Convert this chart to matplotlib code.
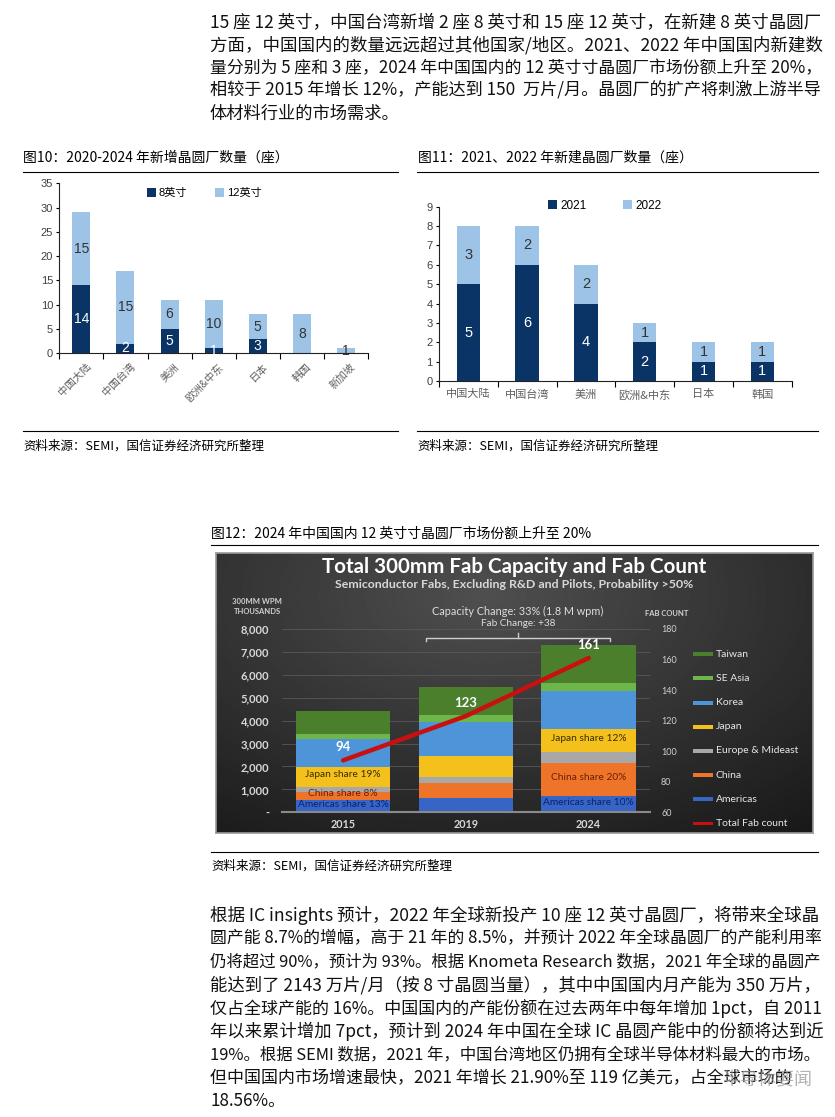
import numpy as np
import matplotlib.pyplot as plt
from matplotlib.lines import Line2D
from matplotlib.patches import Rectangle

plt.rcParams['font.family'] = ['Noto Sans CJK SC', 'DejaVu Sans']

W, H = 835, 1117

# ---------------- data ----------------
TOP_LINES = [
    "15 座 12 英寸，中国台湾新增 2 座 8 英寸和 15 座 12 英寸，在新建 8 英寸晶圆厂",
    "方面，中国国内的数量远远超过其他国家/地区。2021、2022 年中国国内新建数",
    "量分别为 5 座和 3 座，2024 年中国国内的 12 英寸寸晶圆厂市场份额上升至 20%，",
    "相较于 2015 年增长 12%，产能达到 150  万片/月。晶圆厂的扩产将刺激上游半导",
    "体材料行业的市场需求。",
]
BOTTOM_LINES = [
    "根据 IC insights 预计，2022 年全球新投产 10 座 12 英寸晶圆厂，将带来全球晶",
    "圆产能 8.7%的增幅，高于 21 年的 8.5%，并预计 2022 年全球晶圆厂的产能利用率",
    "仍将超过 90%，预计为 93%。根据 Knometa Research 数据，2021 年全球的晶圆产",
    "能达到了 2143 万片/月（按 8 寸晶圆当量），其中中国国内月产能为 350 万片，",
    "仅占全球产能的 16%。中国国内的产能份额在过去两年中每年增加 1pct，自 2011",
    "年以来累计增加 7pct，预计到 2024 年中国在全球 IC 晶圆产能中的份额将达到近",
    "19%。根据 SEMI 数据，2021 年，中国台湾地区仍拥有全球半导体材料最大的市场。",
    "但中国国内市场增速最快，2021 年增长 21.90%至 119 亿美元，占全球市场的",
    "18.56%。",
]

c10_regions = ['中国大陆', '中国台湾', '美洲', '欧洲&中东', '日本', '韩国', '新加坡']
c10_8inch = [14, 2, 5, 1, 3, 0, 0]
c10_12inch = [15, 15, 6, 10, 5, 8, 1]

c11_regions = ['中国大陆', '中国台湾', '美洲', '欧洲&中东', '日本', '韩国']
c11_2021 = [5, 6, 4, 2, 1, 1]
c11_2022 = [3, 2, 2, 1, 1, 1]

fab_years = ['2015', '2019', '2024']
cap_americas = [540, 610, 710]
cap_china = [360, 660, 1430]
cap_europe = [220, 280, 510]
cap_japan = [840, 910, 970]
cap_korea = [1240, 1500, 1690]
cap_seasia = [200, 290, 350]
cap_taiwan = [1020, 1240, 1620]
fab_count = [94, 123, 161]
japan_share = ['Japan share 19%', '', 'Japan share 12%']
china_share = ['China share 8%', '', 'China share 20%']
americas_share = ['Americas share 13%', '', 'Americas share 10%']

DARK = '#0b3466'
LIGHT = '#9dc3e6'
NUMFONT = ['Liberation Sans', 'Noto Sans CJK SC']


def rect(x0, y0, x1, y1):
    return [x0 / W, 1 - y1 / H, (x1 - x0) / W, (y1 - y0) / H]


def ftext(x, y, s, **kw):
    return fig.text(x / W, 1 - y / H, s, **kw)


def hline(x0, x1, y, lw=0.8, color='black'):
    fig.add_artist(Line2D([x0 / W, x1 / W], [1 - y / H, 1 - y / H],
                          transform=fig.transFigure, color=color, lw=lw))


def fit_sizes(lines, width, n_full, base=12):
    """font size per line so that full lines span the text column"""
    r = fig.canvas.get_renderer()
    sizes = []
    for s in lines:
        t = fig.text(0, 0, s, fontsize=base)
        sizes.append(base * width / t.get_window_extent(r).width)
        t.remove()
    med = float(np.median(sizes[:n_full]))
    out = [float(np.clip(s, med * 0.95, med * 1.05)) for s in sizes[:n_full]]
    return out + [med] * (len(lines) - n_full)


fig = plt.figure(figsize=(W / 100, H / 100), dpi=100)

# ---------------- paragraphs ----------------
for i, (s, fs) in enumerate(zip(TOP_LINES, fit_sizes(TOP_LINES, 611, 4))):
    ftext(210, 23 + i * 22.6, s, fontsize=fs, va='center', color='#111111')

for i, (s, fs) in enumerate(zip(BOTTOM_LINES, fit_sizes(BOTTOM_LINES, 611, 7))):
    ftext(210, 915.5 + i * 23.2, s, fontsize=fs, va='center', color='#111111')
# watermark
ftext(722, 1080, '半导体要闻', fontsize=13, va='center', color='#9a9a9a', alpha=0.75)

# ---------------- chart 10 ----------------
ftext(23, 158, '图10：2020-2024 年新增晶圆厂数量（座）', fontsize=10, fontweight='medium', va='center')
hline(23, 398, 171.7)
hline(23, 398, 431)
ftext(23, 446, '资料来源：SEMI，国信证券经济研究所整理', fontsize=9, fontweight='medium', va='center')

ax10 = fig.add_axes(rect(59.3, 183.3, 368, 353.3))
x10 = np.arange(len(c10_regions))
b1 = ax10.bar(x10, c10_8inch, width=0.41, color=DARK, label='8英寸')
b2 = ax10.bar(x10, c10_12inch, bottom=c10_8inch, width=0.41, color=LIGHT, label='12英寸')
ax10.bar_label(b1, labels=[str(v) if v else '' for v in c10_8inch], label_type='center',
               color='white', fontsize=10, fontfamily=NUMFONT)
ax10.bar_label(b2, labels=[str(v) if v else '' for v in c10_12inch], label_type='center',
               color='#333333', fontsize=10, fontfamily=NUMFONT)
ax10.set_ylim(0, 35)
ax10.set_yticks(range(0, 36, 5))
ax10.set_xlim(-0.5, len(c10_regions) - 0.5)
ax10.set_xticks(x10 + 0.1)
ax10.set_xticks(np.arange(-0.5, len(c10_regions), 1), minor=True)
ax10.set_xticklabels(c10_regions, rotation=45, ha='right', va='top', rotation_mode='anchor',
                     fontsize=7.5, color='#606060')
ax10.legend(loc='upper center', bbox_to_anchor=(0.47, 1.03), ncol=2, frameon=False,
            handlelength=0.8, handleheight=0.8, handletextpad=0.3, columnspacing=2.5,
            prop={'family': NUMFONT, 'size': 8})

# ---------------- chart 11 ----------------
ftext(418, 158, '图11：2021、2022 年新建晶圆厂数量（座）', fontsize=10, fontweight='medium', va='center')
hline(417, 818, 171.7)
hline(417, 818, 431)
ftext(417, 446, '资料来源：SEMI，国信证券经济研究所整理', fontsize=9, fontweight='medium', va='center')

ax11 = fig.add_axes(rect(439, 206.7, 791.7, 381))
x11 = np.arange(len(c11_regions))
b3 = ax11.bar(x11, c11_2021, width=0.40, color=DARK, label='2021')
b4 = ax11.bar(x11, c11_2022, bottom=c11_2021, width=0.40, color=LIGHT, label='2022')
ax11.bar_label(b3, labels=[str(v) for v in c11_2021], label_type='center',
               color='white', fontsize=10.5, fontfamily=NUMFONT)
ax11.bar_label(b4, labels=[str(v) for v in c11_2022], label_type='center',
               color='#333333', fontsize=10.5, fontfamily=NUMFONT)
ax11.set_ylim(0, 9)
ax11.set_yticks(range(0, 10))
ax11.set_xlim(-0.5, len(c11_regions) - 0.5)
ax11.set_xticks(x11)
ax11.set_xticks(np.arange(-0.5, len(c11_regions), 1), minor=True)
ax11.set_xticklabels(c11_regions, fontsize=8, color='#606060')
ax11.legend(loc='upper center', bbox_to_anchor=(0.47, 1.10), ncol=2, frameon=False,
            handlelength=0.8, handleheight=0.8, handletextpad=0.3, columnspacing=3.0,
            prop={'family': NUMFONT, 'size': 8.5})

for ax in (ax10, ax11):
    for sp in ('top', 'right'):
        ax.spines[sp].set_visible(False)
    for sp in ('left', 'bottom'):
        ax.spines[sp].set_color('#222222')
        ax.spines[sp].set_linewidth(0.8)
    ax.tick_params(axis='y', length=2.5, width=0.8, pad=2, labelsize=8, labelcolor='#404040')
    ax.tick_params(axis='x', which='major', length=0, pad=6)
    ax.tick_params(axis='x', which='minor', length=4, width=0.8, direction='out')
    for lab in ax.get_yticklabels():
        lab.set_fontfamily('Liberation Sans')

# ---------------- chart 12 ----------------
ftext(211, 534, '图12：2024 年中国国内 12 英寸寸晶圆厂市场份额上升至 20%', fontsize=10,
      fontweight='medium', va='center')
hline(211, 818, 545)
hline(211, 818, 852)
ftext(211, 866, '资料来源：SEMI，国信证券经济研究所整理', fontsize=9, fontweight='medium', va='center')

# dark background panel
ax_bg = fig.add_axes(rect(216, 553, 813, 833))
yy, xx = np.mgrid[0:1:200j, 0:1:400j]
dist = np.sqrt(((xx - 0.45) * 1.1) ** 2 + ((yy - 0.15) * 0.9) ** 2)
ax_bg.imshow(np.clip(0.31 - 0.22 * dist, 0.08, 1), cmap='gray', vmin=0, vmax=1,
             aspect='auto', extent=(0, 1, 0, 1), origin='upper')
ax_bg.set_xticks([])
ax_bg.set_yticks([])
for sp in ax_bg.spines.values():
    sp.set_color('#9a9a9a')
    sp.set_linewidth(1.2)

ftext(514, 567, 'Total 300mm Fab Capacity and Fab Count', fontsize=14.8, fontweight='bold',
      family='Lato', color='white', ha='center', va='center')
ftext(514, 585, 'Semiconductor Fabs, Excluding R&D and Pilots, Probability >50%', fontsize=8.9,
      fontweight='bold', family='Lato', color='#d8d8d8', ha='center', va='center')
ftext(257, 607, '300MM WPM\nTHOUSANDS', fontsize=5.5, fontweight='bold', family='Lato',
      color='#d0d0d0', ha='center', va='center', linespacing=1.5)
ftext(667, 613, 'FAB COUNT', fontsize=5.5, fontweight='bold', family='Lato',
      color='#d0d0d0', ha='center', va='center')
ftext(518, 611, 'Capacity Change: 33% (1.8 M wpm)', fontsize=7.8, family='Lato',
      color='#dddddd', ha='center', va='center')
ftext(518, 623, 'Fab Change: +38', fontsize=7.2, family='Lato',
      color='#dddddd', ha='center', va='center')

seg_names = ['Americas', 'China', 'Europe & Mideast', 'Japan', 'Korea', 'SE Asia', 'Taiwan']
seg_vals = [cap_americas, cap_china, cap_europe, cap_japan, cap_korea, cap_seasia, cap_taiwan]
seg_colors = ['#3665c6', '#ee7429', '#a8a8a8', '#f4c01c', '#4d95d8', '#6cb64a', '#4b7f2c']

ax_c = fig.add_axes(rect(281.7, 629, 650, 812.3))
ax_c.patch.set_alpha(0)
xc = np.arange(len(fab_years))
bottom = np.zeros(len(fab_years))
mids = {}
for name, vals, col in zip(seg_names, seg_vals, seg_colors):
    ax_c.bar(xc, vals, bottom=bottom, width=0.77, color=col, zorder=2)
    mids[name] = bottom + np.array(vals) / 2
    bottom = bottom + np.array(vals)

for i in xc:
    if japan_share[i]:
        ax_c.text(i, mids['Japan'][i] + 90, japan_share[i], ha='center', va='center',
                  fontsize=7.3, family='Lato', color='#3b2c00', zorder=3)
        ax_c.text(i, mids['China'][i] + 110, china_share[i], ha='center', va='center',
                  fontsize=7.3, family='Lato', color='#6a1d08', zorder=3)
        ax_c.text(i, mids['Americas'][i] + 60, americas_share[i], ha='center', va='center',
                  fontsize=7.3, family='Lato', color='#0e1f6a', zorder=3)

ax_c.set_xlim(-0.5, 2.5)
ax_c.set_ylim(0, 8000)
ax_c.set_yticks(range(0, 8001, 1000))
ax_c.set_yticklabels(['-'] + [f'{v:,}' for v in range(1000, 8001, 1000)])
ax_c.set_xticks(xc)
ax_c.set_xticklabels(fab_years)
ax_c.grid(axis='y', color='#585858', lw=0.6, zorder=0)
ax_c.set_axisbelow(True)
for sp in ('top', 'right', 'left'):
    ax_c.spines[sp].set_visible(False)
ax_c.spines['bottom'].set_color('#8a8a8a')
ax_c.spines['bottom'].set_linewidth(1.5)
ax_c.tick_params(axis='y', length=0, pad=9, labelsize=8, labelcolor='#d8d8d8')
ax_c.tick_params(axis='x', length=0, pad=5, labelsize=7.8, labelcolor='#d8d8d8')
for lab in ax_c.get_xticklabels() + ax_c.get_yticklabels():
    lab.set_fontfamily('Lato')
    lab.set_fontweight('bold')

# bracket above 2019-2024
ax_c.plot([0.672, 0.672, 2.176, 2.176], [7460, 7600, 7600, 7460], color='#cfcfcf', lw=1,
          clip_on=False, zorder=3)
ax_c.plot([1.425, 1.425], [7600, 7820], color='#cfcfcf', lw=1, clip_on=False, zorder=3)

ax_r = ax_c.twinx()
ax_r.patch.set_alpha(0)
ax_r.set_ylim(60, 180)
ax_r.set_yticks(range(60, 181, 20))
ax_r.plot(xc, fab_count, color='#c81010', lw=3.2, solid_capstyle='round', zorder=4)
for i, v in zip(xc, fab_count):
    ax_r.annotate(str(v), (i, v), xytext=(0, 9.4), textcoords='offset points', ha='center',
                  va='center', fontsize=9.5, fontweight='bold', family='Lato', color='white')
for sp in ax_r.spines.values():
    sp.set_visible(False)
ax_r.tick_params(axis='y', length=0, pad=8, labelsize=6.5, labelcolor='#cfcfcf')
for lab in ax_r.get_yticklabels():
    lab.set_fontfamily('Lato')

# legend of the dark chart
leg_names = seg_names[::-1] + ['Total Fab count']
leg_colors = seg_colors[::-1] + ['#c81010']
for k, (name, col) in enumerate(zip(leg_names, leg_colors)):
    yk = 654.3 + k * 24.15
    hgt = 4 if k < len(seg_names) else 3
    fig.add_artist(Rectangle((693 / W, 1 - (yk + hgt / 2) / H), 20 / W, hgt / H,
                             transform=fig.transFigure, color=col, lw=0))
    ftext(716, yk, name, fontsize=7.5, family='Lato', color='#e6e6e6', va='center')

fig.savefig('out.png', dpi=100, facecolor='white')
